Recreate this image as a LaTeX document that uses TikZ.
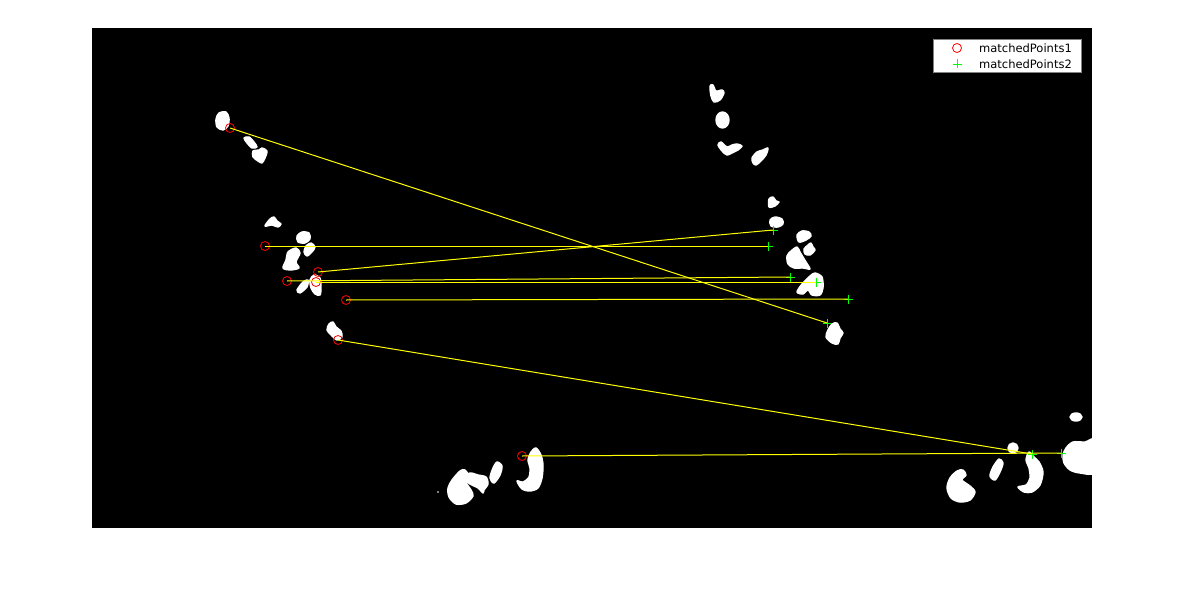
\documentclass[tikz,border=0pt]{standalone}
\usepackage{fontspec}
\setmainfont{DejaVu Sans}
\begin{document}
\begin{tikzpicture}[x=1pt,y=-1pt,
  blob/.style={fill=white,draw=white,line width=1.4pt,line join=round},
  redmark/.style={circle,draw=red,line width=0.8pt,minimum size=9pt,inner sep=0pt},
  greenmark/.style={draw={rgb,255:red,0;green,255;blue,0},line width=0.8pt},
  matchline/.style={draw={rgb,255:red,255;green,255;blue,0},line width=1pt},
  legtext/.style={anchor=base west,inner sep=0pt,font=\fontsize{11.5}{13}\selectfont}]
\useasboundingbox (0,0) rectangle (1186,591);
\fill[white] (0,0) rectangle (1186,591);
\fill[black] (92,28) rectangle (1092,528);
% ---- left image blobs
\filldraw[blob] plot[smooth cycle] coordinates {(219,113)(226,112)(229,118)(228,126)(223,130)(217,127)(216,119)};
\filldraw[blob] plot[smooth cycle] coordinates {(244,138)(249,137)(254,142)(257,147)(252,148)(247,143)};
\filldraw[blob] plot[smooth cycle] coordinates {(253,151)(259,150)(262,148)(267,151)(265,158)(262,163)(258,161)(253,157)};
\filldraw[blob] plot[smooth cycle] coordinates {(265,226)(270,219)(274,217)(277,221)(281,224)(278,227)(272,225)};
\filldraw[blob] plot[smooth cycle] coordinates {(297,236)(302,232)(309,233)(310,239)(305,243)(298,242)};
\filldraw[blob] plot[smooth cycle] coordinates {(306,246)(311,243)(315,247)(312,252)(307,256)(304,252)};
\filldraw[blob] plot[smooth cycle] coordinates {(288,252)(296,248)(300,253)(296,262)(299,268)(290,270)(283,268)(286,260)};
\filldraw[blob] plot[smooth cycle] coordinates {(297,290)(303,282)(308,280)(307,287)(300,293)};
\filldraw[blob] plot[smooth cycle] coordinates {(310,280)(314,275)(320,278)(321,288)(320,295)(315,294)(311,288)};
\filldraw[blob] plot[smooth cycle] coordinates {(329,324)(333,322)(336,327)(341,331)(342,337)(337,340)(331,335)(327,330)};
\filldraw[blob] plot[smooth cycle] coordinates {(452,480)(460,471)(465,470)(470,478)(466,482)(471,490)(473,496)(466,503)(456,504)(449,497)(448,488)};
\filldraw[blob] plot[smooth cycle] coordinates {(463,478)(470,473)(478,475)(486,477)(488,484)(484,490)(483,493)(478,488)(470,484)};
\filldraw[blob] plot[smooth cycle] coordinates {(497,462)(502,466)(500,475)(494,483)(490,478)(493,468)};
\filldraw[blob] plot[smooth cycle] coordinates {(536,448)(541,455)(543,465)(542,478)(538,488)(530,491)(522,489)(517,481)(523,482)(529,477)(530,468)(528,460)(531,452)};
\fill[white] (438,492) circle (0.8);
% ---- right image blobs
\filldraw[blob] plot[smooth cycle] coordinates {(710,86)(713,85)(716,91)(722,90)(724,93)(720,100)(714,102)(711,96)};
\filldraw[blob] (722.5,120) ellipse (6.5 and 8);
\filldraw[blob] plot[smooth cycle] coordinates {(718,145)(721,142)(727,147)(732,145)(737,144)(742,146)(738,150)(734,152)(727,155)(722,151)};
\filldraw[blob] plot[smooth cycle] coordinates {(752,158)(757,152)(763,150)(768,148)(766,155)(761,161)(756,165)(753,163)};
\filldraw[blob] plot[smooth cycle] coordinates {(769,199)(773,197)(776,201)(779,202)(775,206)(769,207)};
\filldraw[blob] plot[smooth cycle] coordinates {(770,220)(775,217)(782,219)(783,224)(778,227)(771,226)};
\filldraw[blob] plot[smooth cycle] coordinates {(797,235)(802,231)(809,232)(811,236)(806,240)(799,242)};
\filldraw[blob] plot[smooth cycle] coordinates {(808,245)(811,243)(813,247)(815,250)(810,255)(805,254)(804,249)};
\filldraw[blob] plot[smooth cycle] coordinates {(791,251)(797,247)(800,252)(803,257)(806,262)(810,269)(803,268)(794,268)(788,264)(787,256)};
\filldraw[blob] plot[smooth cycle] coordinates {(802,284)(810,276)(815,273)(822,277)(823,288)(820,295)(812,295)(808,290)(803,294)(797,292)};
\filldraw[blob] plot[smooth cycle] coordinates {(828,330)(832,324)(837,323)(840,329)(843,333)(840,338)(838,344)(832,343)(826,337)};
\filldraw[blob] plot[smooth cycle] coordinates {(950,478)(957,471)(963,470)(966,475)(962,480)(970,486)(975,492)(970,500)(960,502)(951,498)(947,488)};
\filldraw[blob] plot[smooth cycle] coordinates {(999,459)(1003,463)(1000,472)(995,480)(990,476)(993,467)};
\filldraw[blob] (1013,448) ellipse (5 and 5);
\filldraw[blob] plot[smooth cycle] coordinates {(1029,452)(1034,457)(1039,462)(1043,472)(1040,485)(1032,492)(1024,492)(1018,487)(1026,485)(1030,478)(1029,468)(1026,460)};
\begin{scope}
\clip (92,28) rectangle (1092,528);
\filldraw[blob] plot[smooth cycle] coordinates {(1066,448)(1073,442)(1085,442)(1095,440)(1095,472)(1080,473)(1070,470)(1064,463)(1063,455)};
\end{scope}
\filldraw[blob] (1076,417) ellipse (6 and 4);
% ---- matched points
\coordinate (p1) at (230,128);  \coordinate (q1) at (827,323);
\coordinate (p2) at (265,246);  \coordinate (q2) at (768,246);
\coordinate (p3) at (318,272);  \coordinate (q3) at (773,230);
\coordinate (p4) at (287,281);  \coordinate (q4) at (790,277);
\coordinate (p5) at (316,282);  \coordinate (q5) at (816,282);
\coordinate (p6) at (346,300);  \coordinate (q6) at (848,299);
\coordinate (p7) at (338,340);  \coordinate (q7) at (1032,454);
\coordinate (p8) at (522,456);  \coordinate (q8) at (1061,453);
\foreach \i in {1,...,8}{
  \node[redmark] (r\i) at (p\i) {};
  \draw[greenmark] (q\i) +(-4.5,0) -- +(4.5,0) (q\i) +(0,-4.5) -- +(0,4.5);
}
\foreach \i in {1,...,8}{
  \draw[matchline] (p\i) -- (q\i);
}
% ---- legend
\node[draw={rgb,255:red,130;green,130;blue,130},fill=white,line width=0.8pt,minimum width=148pt,minimum height=33pt,inner sep=0pt,anchor=north west] (legend) at (933,39) {};
\node[redmark] (lr) at (957,48) {};
\coordinate (lg) at (957,64);
\draw[greenmark] (lg) +(-4.5,0) -- +(4.5,0) (lg) +(0,-4.5) -- +(0,4.5);
\node[legtext] (l1) at (979,52.5) {matchedPoints1};
\node[legtext] (l2) at (979,68.5) {matchedPoints2};
\end{tikzpicture}
\end{document}
